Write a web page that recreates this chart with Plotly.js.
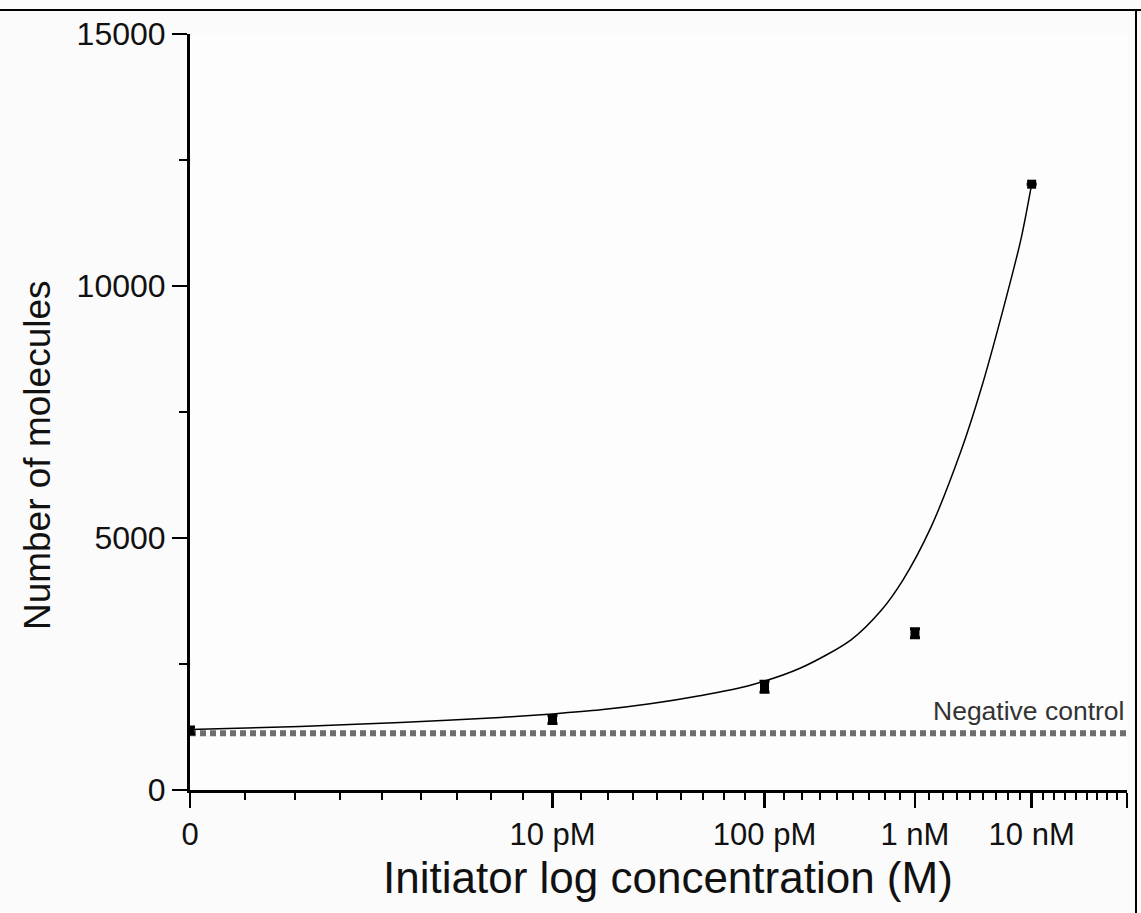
<!DOCTYPE html>
<html>
<head>
<meta charset="utf-8">
<script src="https://cdn.plot.ly/plotly-3.0.1.min.js"></script>
<style>
  html, body { margin: 0; padding: 0; background: #fbfbfb; }
  #chart { width: 1141px; height: 913px; }
</style>
</head>
<body>
<div id="chart"></div>
<script>
// ---- data ----
// x axis: ordinal concentration steps on a log-scaled axis (1 = "0", 2 = 10 pM, ...)
const categories = ["0", "10 pM", "100 pM", "1 nM", "10 nM"];
const stepIndex = [1, 2, 3, 4, 5];
const molecules = [1180, 1400, 2050, 3110, 12020];
const moleculeErrors = [70, 80, 110, 90, 0];

// fitted curve (x in axis step units)
const fitX = [1.0, 1.234, 1.495, 1.81, 2.0, 2.193, 2.41, 2.65, 2.92, 3.214, 3.54, 3.746, 3.91, 4.12, 4.37, 4.55, 4.74, 4.9, 5.0];
const fitY = [1200, 1260, 1340, 1440, 1510, 1590, 1710, 1870, 2080, 2420, 2980, 3550, 4170, 5190, 6740, 8040, 9580, 10940, 12020];

const negativeControl = 1125;
const negativeLabel = "Negative control";

const yTicks = [0, 5000, 10000, 15000];

// ---- axis helpers ----
const axisEnd = 6;
const xTickVals = stepIndex.concat([axisEnd]);
const xTickText = categories.concat([""]);
const xMinor = [];
for (let k = 1; k < axisEnd; k++) {
  for (let j = 1; j <= 8; j++) xMinor.push(k + j / 9);
}

const FONT = "Liberation Sans, Arial, Helvetica, sans-serif";

const traces = [
  {
    x: [1, axisEnd],
    y: [negativeControl, negativeControl],
    mode: "lines",
    line: { color: "#6e6e6e", width: 6, dash: "6px,4px" },
    hoverinfo: "skip",
    showlegend: false
  },
  {
    x: fitX,
    y: fitY,
    mode: "lines",
    line: { color: "#000", width: 1.5, shape: "spline", smoothing: 0.8 },
    showlegend: false
  },
  {
    x: stepIndex,
    y: molecules,
    mode: "markers",
    marker: { symbol: "square", size: 9, color: "#000" },
    error_y: { type: "data", array: moleculeErrors, visible: true, color: "#000", thickness: 3, width: 5 },
    showlegend: false
  }
];

const layout = {
  width: 1141,
  height: 913,
  margin: { l: 190, r: 14, t: 34, b: 123 },
  paper_bgcolor: "#fbfbfb",
  plot_bgcolor: "#fdfdfd",
  font: { family: FONT, color: "#000" },
  showlegend: false,
  xaxis: {
    type: "log",
    range: [0, Math.log10(axisEnd)],
    tickmode: "array",
    tickvals: xTickVals,
    ticktext: xTickText,
    ticks: "outside",
    ticklen: 15,
    tickwidth: 2.5,
    tickcolor: "#000",
    showline: true,
    linecolor: "#000",
    linewidth: 3,
    showgrid: false,
    zeroline: false,
    tickfont: { size: 31, family: FONT, color: "#111" },
    minor: { tickmode: "array", tickvals: xMinor, ticks: "outside", ticklen: 7, tickwidth: 2, tickcolor: "#000", showgrid: false }
  },
  yaxis: {
    range: [0, 15000],
    tickmode: "array",
    tickvals: yTicks,
    ticktext: yTicks.map(String),
    ticks: "outside",
    ticklen: 15,
    tickwidth: 2.5,
    tickcolor: "#000",
    showline: true,
    linecolor: "#000",
    linewidth: 3,
    showgrid: false,
    zeroline: false,
    tickfont: { size: 32, family: FONT, color: "#111" },
    minor: { dtick: 2500, ticks: "outside", ticklen: 8, tickwidth: 2, tickcolor: "#000", showgrid: false }
  },
  annotations: [
    {
      text: negativeLabel,
      xref: "paper", x: 1.0, xanchor: "right",
      yref: "y", y: negativeControl, yanchor: "bottom", yshift: 5,
      showarrow: false,
      font: { size: 26.5, family: FONT, color: "#333" }
    },
    {
      text: "Initiator log concentration (M)",
      xref: "paper", x: 0.510, xanchor: "center",
      yref: "paper", y: -0.1164, yanchor: "middle",
      showarrow: false,
      font: { size: 44, family: FONT, color: "#111" }
    },
    {
      text: "Number of molecules",
      textangle: -90,
      xref: "paper", x: -0.1633, xanchor: "center",
      yref: "paper", y: 0.443, yanchor: "middle",
      showarrow: false,
      font: { size: 37, family: FONT, color: "#111" }
    }
  ],
  shapes: [
    { type: "line", xref: "paper", yref: "paper", x0: -0.25, x1: 1.05, y0: 1.0317, y1: 1.0317, line: { color: "#000", width: 2 } },
    { type: "line", xref: "paper", yref: "paper", x0: 1.0096, x1: 1.0096, y0: 1.0317, y1: -0.2, line: { color: "#000", width: 2 } }
  ]
};

Plotly.newPlot("chart", traces, layout, { displayModeBar: false, staticPlot: true });
</script>
</body>
</html>
